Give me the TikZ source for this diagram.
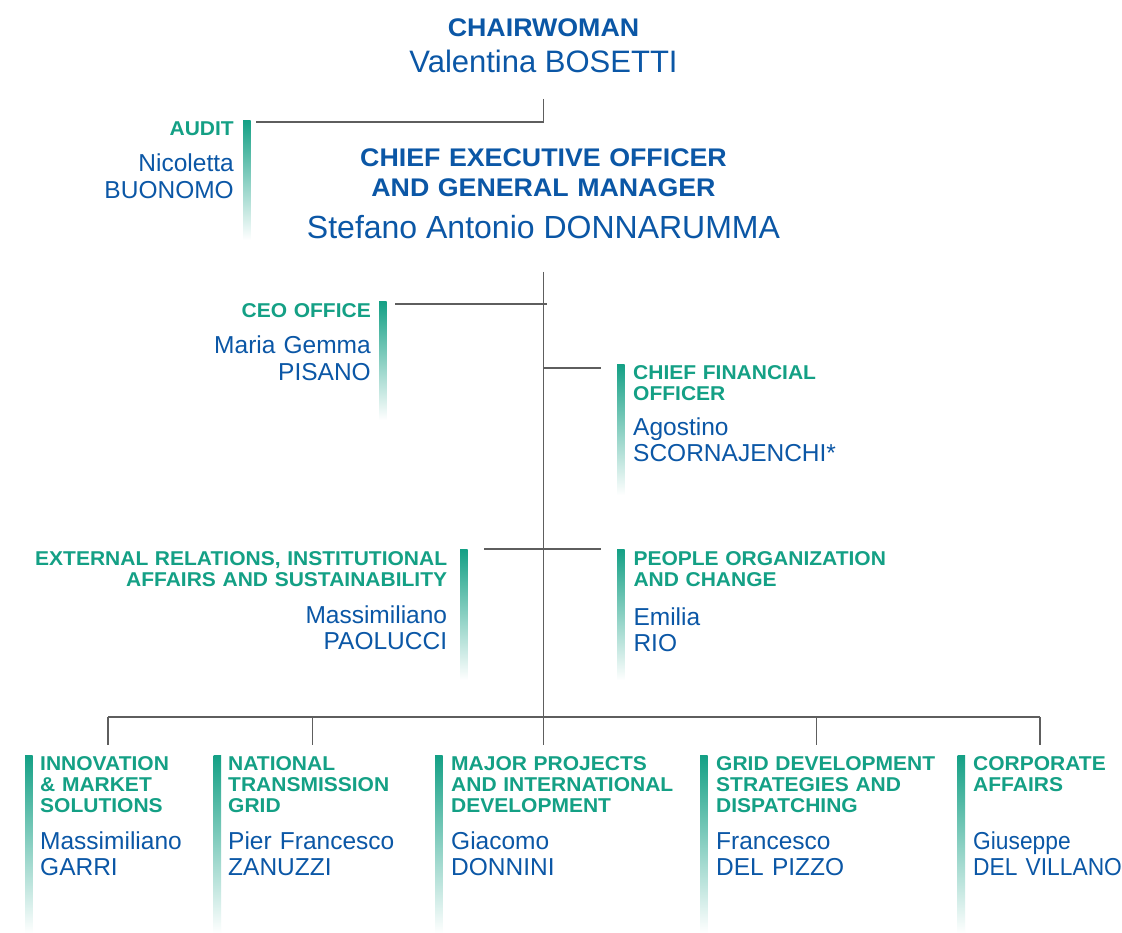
\documentclass[tikz,border=0pt]{standalone}
\usepackage{fontspec}
\setmainfont{Liberation Sans}
\newfontfamily\hfont{Liberation Sans}[FakeStretch=1.05]
\newfontfamily\nfont{Liberation Sans}[FakeStretch=0.93]
\definecolor{tgreen}{HTML}{14A085}
\definecolor{tblue}{HTML}{0B57A6}
\definecolor{tline}{HTML}{5E5E5E}
\tikzset{
  hd/.style={font=\hfont\bfseries\fontsize{20}{21}\selectfont, text=tgreen, inner sep=0pt, text width=300pt},
  nm/.style={font=\fontsize{24.5}{26.5}\selectfont, text=tblue, inner sep=0pt, text width=300pt},
  hl/.style={hd, align=left, anchor=base west},
  hr/.style={hd, align=right, anchor=base east},
  nl/.style={nm, align=left, anchor=base west},
  nr/.style={nm, align=right, anchor=base east},
  bar/.style={anchor=north west, inner sep=0pt, minimum width=7.5pt, draw=none, top color=tgreen, bottom color=white, shading angle=0},
  conn/.style={draw=tline, line width=1.3pt},
}
\begin{document}
\begin{tikzpicture}[x=1pt,y=-1pt]
\useasboundingbox[fill=white] (0,0) rectangle (1122,933);
% top
\node[font=\hfont\bfseries\fontsize{25.5}{30}\selectfont, text=tblue, inner sep=0pt, anchor=base] (chairT) at (543.5,36.7) {CHAIRWOMAN};
\node[font=\fontsize{31}{34}\selectfont, text=tblue, inner sep=0pt, anchor=base] (chairN) at (543.5,72.7) {Valentina BOSETTI};
\node[font=\hfont\bfseries\fontsize{25.5}{30}\selectfont, text=tblue, inner sep=0pt, text width=500pt, align=center, anchor=base] (ceoT) at (543.5,166.5) {CHIEF EXECUTIVE OFFICER\\AND GENERAL MANAGER};
\node[font=\fontsize{32}{34}\selectfont, text=tblue, inner sep=0pt, anchor=base] (ceoN) at (543.5,238.5) {Stefano Antonio DONNARUMMA};
% audit
\node[hr] (audT) at (234,136) {AUDIT};
\node[nr] (audN) at (234,172) {Nicoletta\\BUONOMO};
\node[bar, minimum height=120pt] (audB) at (243,120) {};
% ceo office
\node[hr] (offT) at (371,317.5) {CEO OFFICE};
\node[nr] (offN) at (371,354) {Maria Gemma\\PISANO};
\node[bar, minimum height=119pt] (offB) at (379,301) {};
% cfo
\node[hl] (cfoT) at (633,379.5) {CHIEF FINANCIAL\\OFFICER};
\node[nl] (cfoN) at (633,435) {Agostino\\SCORNAJENCHI*};
\node[bar, minimum height=131pt] (cfoB) at (617,364) {};
% external relations
\node[hr, text width=440pt] (extT) at (447.3,565) {EXTERNAL RELATIONS, INSTITUTIONAL\\AFFAIRS AND SUSTAINABILITY};
\node[nr] (extN) at (447.3,623) {Massimiliano\\PAOLUCCI};
\node[bar, minimum height=131pt] (extB) at (460,549) {};
% people
\node[hl] (pplT) at (633.3,565) {PEOPLE ORGANIZATION\\AND CHANGE};
\node[nl] (pplN) at (633.3,625) {Emilia\\RIO};
\node[bar, minimum height=131pt] (pplB) at (617,549) {};
% bottom row
\node[hl] (b1T) at (40,770) {INNOVATION\\\& MARKET\\SOLUTIONS};
\node[nl] (b1N) at (40,849) {Massimiliano\\GARRI};
\node[bar, minimum height=178pt] (b1B) at (25,755) {};
\node[hl] (b2T) at (228,770) {NATIONAL\\TRANSMISSION\\GRID};
\node[nl] (b2N) at (228,849) {Pier Francesco\\ZANUZZI};
\node[bar, minimum height=178pt] (b2B) at (213.5,755) {};
\node[hl] (b3T) at (451,770) {MAJOR PROJECTS\\AND INTERNATIONAL\\DEVELOPMENT};
\node[nl] (b3N) at (451,849) {Giacomo\\DONNINI};
\node[bar, minimum height=178pt] (b3B) at (435,755) {};
\node[hl] (b4T) at (716,770) {GRID DEVELOPMENT\\STRATEGIES AND\\DISPATCHING};
\node[nl] (b4N) at (716,849) {Francesco\\DEL PIZZO};
\node[bar, minimum height=178pt] (b4B) at (700,755) {};
\node[hl] (b5T) at (973,770) {CORPORATE\\AFFAIRS};
\node[nl, font=\nfont\fontsize{24.5}{26.5}\selectfont] (b5N) at (973,849) {Giuseppe\\DEL VILLANO};
\node[bar, minimum height=178pt] (b5B) at (957.5,755) {};
% connector coordinates
\coordinate (chairDrop) at (543.5,99);
\coordinate (audEnd) at (256,122);
\coordinate (ceoTop) at (543.5,272);
\coordinate (spineEnd) at (543.5,717);
\coordinate (offEnd) at (395,304);
\coordinate (offJ) at (547,304);
\coordinate (cfoJ) at (543.5,368);
\coordinate (cfoEnd) at (601,368);
\coordinate (extEnd) at (484,549);
\coordinate (pplEnd) at (601,549);
\coordinate (busL) at (108,717);
\coordinate (busR) at (1040,717);
\coordinate (d1) at (108,745);
\coordinate (d2) at (312.3,745);
\coordinate (d3) at (543.5,745);
\coordinate (d4) at (816.7,745);
\coordinate (d5) at (1040,745);
% connectors
\draw[conn] (chairDrop) |- (audEnd);
\draw[conn] (ceoTop) -- (spineEnd);
\draw[conn] (offEnd) -- (offJ);
\draw[conn] (cfoJ) -- (cfoEnd);
\draw[conn] (extEnd) -- (pplEnd);
\draw[conn] (busL) -- (busR);
\draw[conn] (busL) -- (d1);
\draw[conn] (d2 |- busL) -- (d2);
\draw[conn] (spineEnd) -- (d3);
\draw[conn] (d4 |- busL) -- (d4);
\draw[conn] (busR) -- (d5);
\end{tikzpicture}
\end{document}
